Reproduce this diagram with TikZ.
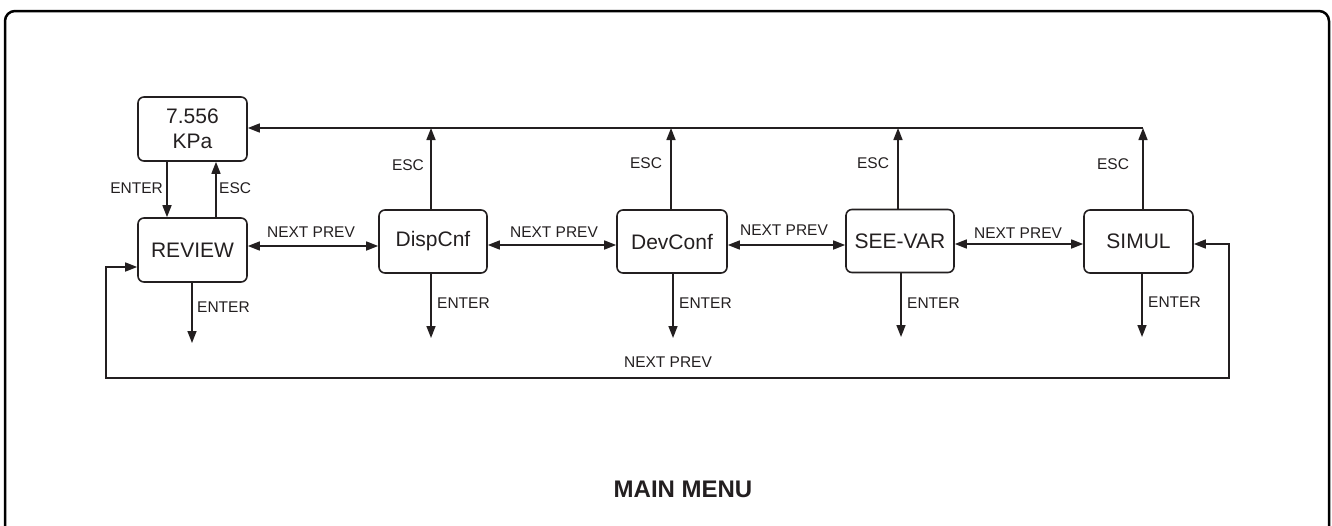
\documentclass[tikz,border=0pt]{standalone}
\usepackage{fontspec}
\setmainfont{Liberation Sans}
\usetikzlibrary{arrows.meta}
\definecolor{ink}{HTML}{231F20}
\begin{document}
\begin{tikzpicture}[x=1pt,y=-1pt,
  box/.style={draw=ink,line width=1.6pt,rounded corners=6pt,minimum width=108pt,minimum height=63pt,inner sep=0pt,font=\fontsize{21}{25.5}\selectfont,text=ink,align=center},
  lbl/.style={font=\fontsize{15.5}{18}\selectfont,text=ink,inner sep=0pt},
  conn/.style={draw=ink,line width=1.5pt},
  arr/.style={conn,-{Triangle[length=12pt,width=9pt]}},
  darr/.style={conn,{Triangle[length=12pt,width=9pt]}-{Triangle[length=12pt,width=9pt]}}]
\useasboundingbox (0,0) rectangle (1332,525);
\begin{scope}
\clip (0,0) rectangle (1332,525);
\draw[line width=2.5pt,rounded corners=10pt] (5,11) rectangle (1329,620);
\end{scope}
% boxes
\node[box,minimum width=109pt,minimum height=64pt] (kpa) at (192.5,129) {7.556\\KPa};
\node[box,minimum width=109pt,minimum height=64pt] (review) at (192.5,250) {REVIEW};
\node[box] (dispcnf) at (433,241.5) {DispCnf};
\node[box,minimum width=110pt] (devconf) at (672,241.5) {DevConf};
\node[box] (seevar) at (900,241) {SEE-VAR};
\node[box,minimum width=109pt] (simul) at (1138.5,241.5) {SIMUL};
% coordinates
\coordinate (topc) at (1143,128);
\coordinate (bl1) at (106,267);
\coordinate (bl2) at (106,378);
\coordinate (br2) at (1229,378);
\coordinate (br1) at (1229,244);
% kpa <-> review
\draw[arr] (kpa.south -| 167,0) -- (review.north -| 167,0);
\draw[arr] (review.north -| 216,0) -- (kpa.south -| 216,0);
\node[lbl,anchor=east] (l1) at (163,188) {ENTER};
\node[lbl,anchor=west] (l2) at (219,188) {ESC};
% top ESC line
\draw[arr] (simul.north -| topc) -- (topc);
\draw[arr] (topc) -- (kpa.east |- topc);
\draw[arr] (dispcnf.north -| 431,0) -- (431,128);
\draw[arr] (devconf.north -| 671,0) -- (671,128);
\draw[arr] (seevar.north -| 898,0) -- (898,128);
\node[lbl] (e1) at (408,165) {ESC};
\node[lbl] (e2) at (646,163) {ESC};
\node[lbl] (e3) at (873,163) {ESC};
\node[lbl] (e4) at (1113,164) {ESC};
% next/prev
\draw[darr] (review.east |- 0,246) -- (dispcnf.west |- 0,246);
\draw[darr] (dispcnf.east |- 0,245) -- (devconf.west |- 0,245);
\draw[darr] (devconf.east |- 0,245) -- (seevar.west |- 0,245);
\draw[darr] (seevar.east |- 0,244) -- (simul.west |- 0,244);
\node[lbl] (n1) at (311,232) {NEXT PREV};
\node[lbl] (n2) at (554,232) {NEXT PREV};
\node[lbl] (n3) at (784,230) {NEXT PREV};
\node[lbl] (n4) at (1018,233) {NEXT PREV};
% enter down
\coordinate (d1) at (192,343);
\coordinate (d2) at (431,338);
\coordinate (d3) at (673,338);
\coordinate (d4) at (901,337);
\coordinate (d5) at (1142,337);
\draw[arr] (review.south -| d1) -- (d1);
\draw[arr] (dispcnf.south -| d2) -- (d2);
\draw[arr] (devconf.south -| d3) -- (d3);
\draw[arr] (seevar.south -| d4) -- (d4);
\draw[arr] (simul.south -| d5) -- (d5);
\node[lbl,anchor=west] (t1) at (197,307) {ENTER};
\node[lbl,anchor=west] (t2) at (437,303) {ENTER};
\node[lbl,anchor=west] (t3) at (679,303) {ENTER};
\node[lbl,anchor=west] (t4) at (907,303) {ENTER};
\node[lbl,anchor=west] (t5) at (1148,302) {ENTER};
% bottom loop
\draw[darr] (review.west |- bl1) -- (bl1) -- (bl2) -- (br2) -- (br1) -- (simul.east |- br1);
\node[lbl] (nb) at (668,362) {NEXT PREV};
% title
\node[font=\bfseries\fontsize{24}{28}\selectfont,text=ink,inner sep=0pt] (title) at (683,489) {MAIN MENU};
\end{tikzpicture}
\end{document}
